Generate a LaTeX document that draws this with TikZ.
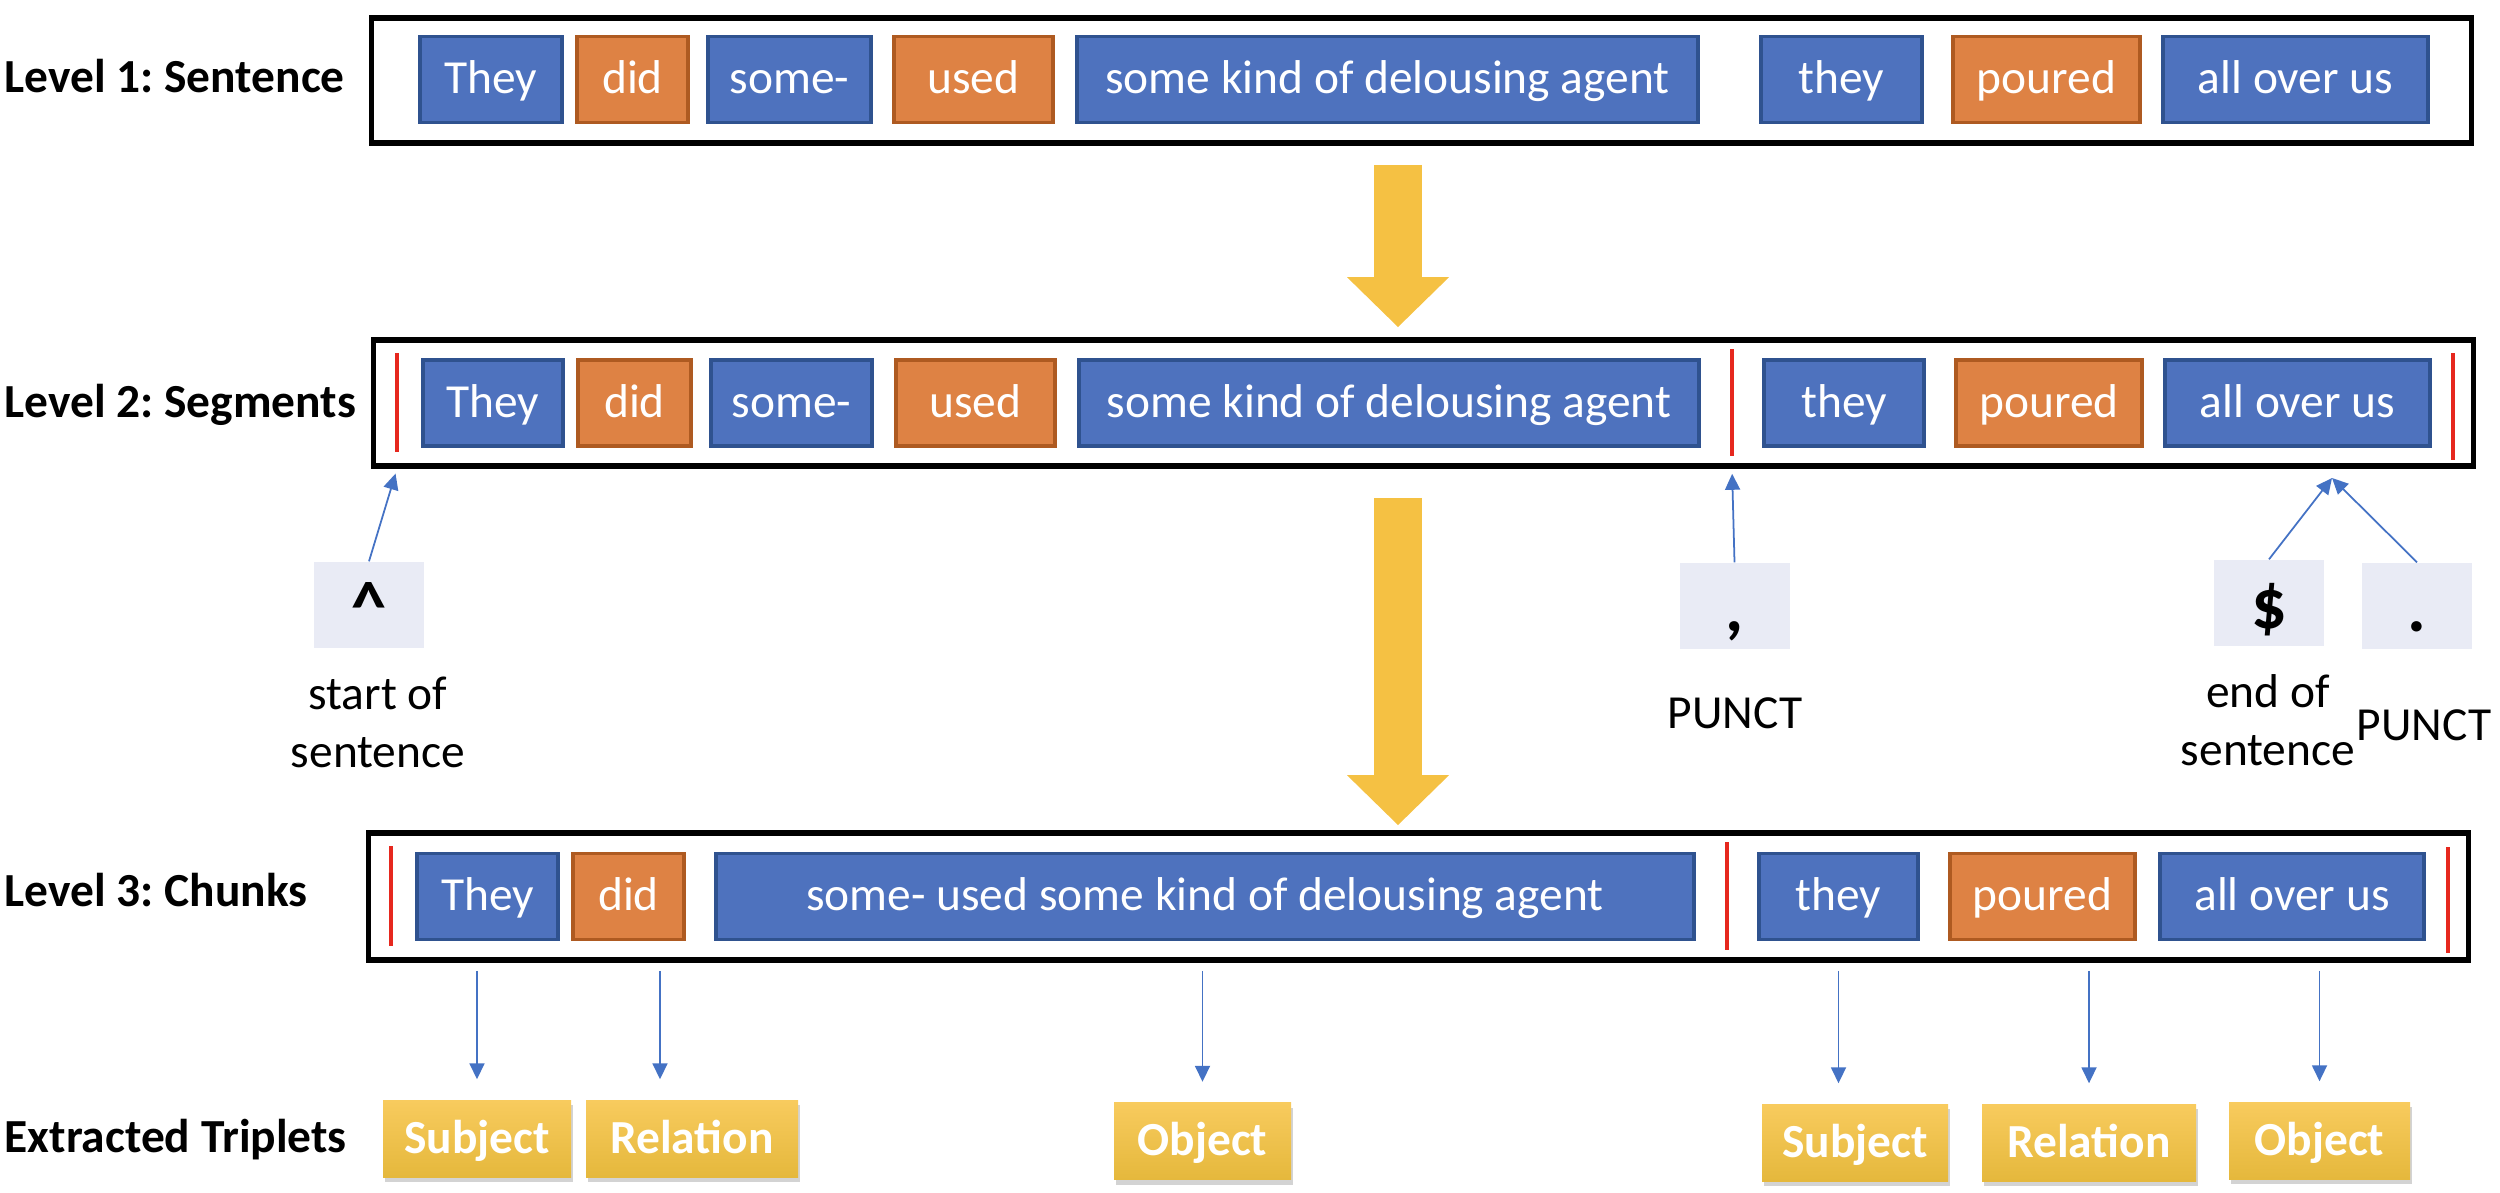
\documentclass[tikz,border=0pt]{standalone}
\usepackage{fontspec}
\setmainfont{Carlito}
\usepackage{tikz}
\usetikzlibrary{arrows.meta,shadows,calc}
\definecolor{tokblue}{RGB}{78,114,190}
\definecolor{tokblueline}{RGB}{47,82,143}
\definecolor{tokorange}{RGB}{222,130,68}
\definecolor{tokorangeline}{RGB}{174,90,33}
\definecolor{flowyellow}{RGB}{245,193,67}
\definecolor{tripletop}{RGB}{248,203,94}
\definecolor{triplebot}{RGB}{229,184,60}
\definecolor{markgray}{RGB}{233,235,245}
\definecolor{segred}{RGB}{230,40,30}
\definecolor{ptrblue}{RGB}{68,114,196}
\frenchspacing

\begin{document}
\begin{tikzpicture}[
lvbox/.style={draw=black, line width=1.6pt, fill=white, minimum width=21cm, inner sep=0pt},
levlabel/.style={anchor=base west, inner sep=0pt, font=\fontsize{13.5}{16.5}\selectfont\bfseries},
tok/.style={fill=tokblue, draw=tokblueline, line width=0.9pt, text=white, minimum height=0.86cm,
inner sep=0pt, text height=0.39cm, text depth=0.1cm, font=\fontsize{13.5}{16.5}\selectfont},
verb/.style={tok, fill=tokorange, draw=tokorangeline},
bar/.style={fill=segred, inner sep=0pt, minimum width=1.3pt},
symbox/.style={fill=markgray, minimum width=1.1cm, minimum height=0.86cm, inner sep=0pt,
text height=0.6cm, text depth=0.08cm, font=\fontsize{20}{22}\selectfont\bfseries},
note/.style={align=center, inner sep=0pt, font=\fontsize{13.5}{16.5}\selectfont},
triple/.style={top color=tripletop, bottom color=triplebot, text=white, minimum height=0.77cm,
inner sep=0pt, text height=0.39cm, text depth=0.1cm, font=\fontsize{13.5}{16.5}\selectfont\bfseries,
drop shadow={shadow xshift=0.02cm, shadow yshift=-0.05cm, opacity=0.35}},
ptr/.style={-{Triangle[length=1.6mm, width=1.5mm]}, draw=ptrblue, line width=0.5pt},
ptrdown/.style={ptr, shorten <=0.08cm, shorten >=0.2cm},
flow/.style={-{Triangle[length=0.5cm, width=0.99cm]}, draw=flowyellow, line width=0.48cm}
]
\useasboundingbox (0,0) rectangle (25,11.92);

% level frames
\node[lvbox, minimum height=1.25cm] (lv1) at (14.215,11.115) {};
\node[lvbox, minimum height=1.26cm] (lv2) at (14.235,7.89) {};
\node[lvbox, minimum height=1.27cm] (lv3) at (14.185,2.955) {};

\node[levlabel] (lab1) at (0.04,10.99) {Level 1: Sentence};
\node[levlabel] (lab2) at (0.04,7.74) {Level 2: Segments};
\node[levlabel] (lab3) at (0.04,2.85) {Level 3: Chunks};
\node[levlabel] (lab4) at (0.04,0.40) {Extracted Triplets};

% level 1
\node[tok, minimum width=1.42cm] (a1) at (4.91,11.125) {They};
\node[verb, minimum width=1.11cm] (a2) at (6.325,11.125) {did};
\node[tok, minimum width=1.63cm] (a3) at (7.895,11.125) {some-};
\node[verb, minimum width=1.59cm] (a4) at (9.735,11.125) {used};
\node[tok, minimum width=6.21cm] (a5) at (13.875,11.125) {some kind of delousing agent};
\node[tok, minimum width=1.61cm] (a6) at (18.415,11.125) {they};
\node[verb, minimum width=1.87cm] (a7) at (20.465,11.125) {poured};
\node[tok, minimum width=2.65cm] (a8) at (22.955,11.125) {all over us};

% level 2
\node[tok, minimum width=1.40cm] (b1) at (4.93,7.89) {They};
\node[verb, minimum width=1.13cm] (b2) at (6.345,7.89) {did};
\node[tok, minimum width=1.61cm] (b3) at (7.915,7.89) {some-};
\node[verb, minimum width=1.59cm] (b4) at (9.755,7.89) {used};
\node[tok, minimum width=6.20cm] (b5) at (13.89,7.89) {some kind of delousing agent};
\node[tok, minimum width=1.60cm] (b6) at (18.44,7.89) {they};
\node[verb, minimum width=1.86cm] (b7) at (20.49,7.89) {poured};
\node[tok, minimum width=2.65cm] (b8) at (22.975,7.89) {all over us};

\node[bar, minimum height=0.99cm] (r1) at (3.97,7.895) {};
\node[bar, minimum height=1.07cm] (r2) at (17.32,7.895) {};
\node[bar, minimum height=1.07cm] (r3) at (24.53,7.855) {};

% level 3
\node[tok, minimum width=1.41cm] (c1) at (4.875,2.955) {They};
\node[verb, minimum width=1.11cm] (c2) at (6.285,2.955) {did};
\node[tok, minimum width=9.78cm] (c3) at (12.05,2.955) {some- used some kind of delousing agent};
\node[tok, minimum width=1.59cm] (c4) at (18.385,2.955) {they};
\node[verb, minimum width=1.85cm] (c5) at (20.425,2.955) {poured};
\node[tok, minimum width=2.64cm] (c6) at (22.92,2.955) {all over us};

\node[bar, minimum height=1.00cm] (r4) at (3.91,2.96) {};
\node[bar, minimum height=1.08cm] (r5) at (17.27,2.96) {};
\node[bar, minimum height=1.06cm] (r6) at (24.48,2.92) {};

% boundary markers
\node[symbox] (caret) at (3.69,5.87) {\textasciicircum};
\node[symbox] (comma) at (17.345,5.86) {,};
\node[symbox] (dollar) at (22.69,5.89) {\$};
\node[symbox] (dot) at (24.17,5.86) {.};

\node[note] (sostxt) at (3.78,4.70) {start of\\sentence};
\node[note] (punct1) at (17.35,4.79) {PUNCT};
\node[note] (eostxt) at (22.68,4.72) {end of\\sentence};
\node[note] (punct2) at (24.24,4.67) {PUNCT};

% triplets
\node[triple, minimum width=1.88cm] (t1) at (4.77,0.535) {Subject};
\node[triple, minimum width=2.12cm] (t2) at (6.92,0.535) {Relation};
\node[triple, minimum width=1.77cm] (t3) at (12.025,0.51) {Object};
\node[triple, minimum width=1.86cm] (t4) at (18.55,0.495) {Subject};
\node[triple, minimum width=2.14cm] (t5) at (20.89,0.495) {Relation};
\node[triple, minimum width=1.81cm] (t6) at (23.195,0.515) {Object};

% flow between levels
\coordinate (axis) at (13.98,6);
\draw[flow, shorten <=0.19cm, shorten >=0.1cm] (lv1.south -| axis) -- (lv2.north -| axis);
\draw[flow, shorten <=0.29cm, shorten >=0.05cm] (lv2.south -| axis) -- (lv3.north -| axis);

\draw[ptr, shorten >=0.5mm] (caret.north) -- (r1 |- lv2.south);
\draw[ptr, shorten >=0.5mm] (comma.north) -- (r2 |- lv2.south);
\coordinate (eos) at (23.32,7.14);
\draw[ptr] (dollar.north) -- (eos);
\draw[ptr] (dot.north) -- (eos);

\draw[ptrdown] (lv3.south -| t1.north) -- (t1.north);
\draw[ptrdown] ($(lv3.south -| t2.north)+(-0.32,0)$) -- ($(t2.north)+(-0.32,0)$);
\draw[ptrdown] (lv3.south -| t3.north) -- (t3.north);
\draw[ptrdown] (lv3.south -| c4) -- (c4 |- t4.north);
\draw[ptrdown] (lv3.south -| t5.north) -- (t5.north);
\draw[ptrdown] (lv3.south -| t6.north) -- (t6.north);

\end{tikzpicture}
\end{document}
